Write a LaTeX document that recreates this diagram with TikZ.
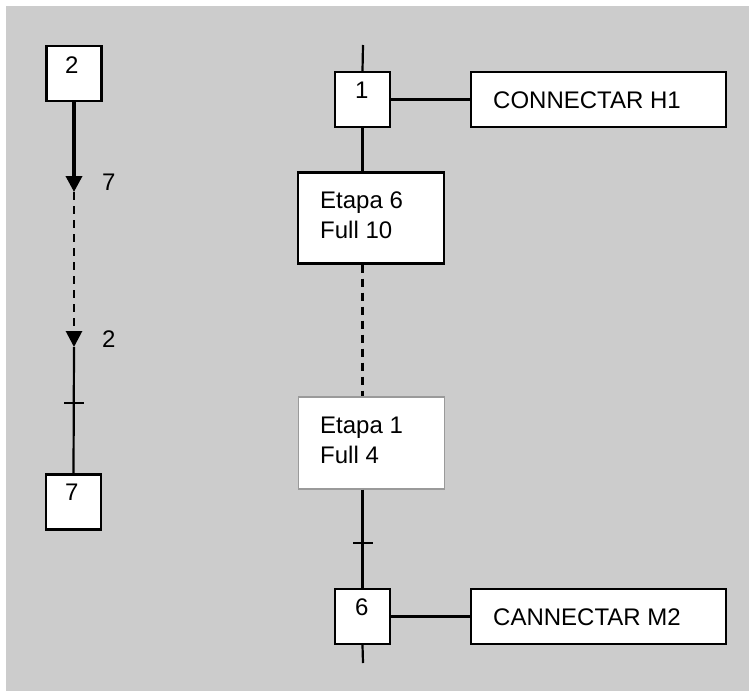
\documentclass[tikz,border=0pt]{standalone}
\usepackage{fontspec}
\setmainfont{Liberation Sans}
\usetikzlibrary{arrows.meta}
\definecolor{bg}{HTML}{CCCCCC}
\definecolor{softedge}{HTML}{9A9A9A}
\tikzset{
  box/.style={draw=black, fill=white, line width=2.2pt, inner sep=0pt},
  stepbox/.style={box, minimum width=55pt, minimum height=55pt},
  actionbox/.style={box, minimum width=255pt, minimum height=55pt},
  etapabox/.style={box, minimum width=146pt, minimum height=91pt},
  txt/.style={font=\fontsize{24}{28}\selectfont, inner sep=0pt, anchor=base west},
  link/.style={line width=2.2pt},
  thicklink/.style={line width=3.6pt},
  dashlink/.style={line width=2.8pt, dash pattern=on 8pt off 6pt},
  tip/.style={-{Triangle[width=16pt,length=16pt]}}
}
\begin{document}
\begin{tikzpicture}[x=1pt,y=-1pt]
\useasboundingbox (0,0) rectangle (749,691);
\fill[bg] (6,6) rectangle (749,691);

% ---- left branch: jump from step 2 to step 7 ----
\node[stepbox] (s2) at (74,73.5) {};
\node[txt] (t2) at (65,73) {2};
\node[stepbox] (s7) at (73.5,502) {};
\node[txt] (t7) at (65,500) {7};
\coordinate (a1) at (74,192);
\coordinate (a2) at (74,347);
\draw[thicklink, tip] (s2.south) -- (a1);
\draw[dashlink, tip] (a1) -- (a2);
\draw[link] (a2) -- (s7.north);
\coordinate (k1) at (74,403);
\draw[link] ([xshift=-10pt]k1) -- ([xshift=10pt]k1);
\node[txt] (l7) at (102,190) {7};
\node[txt] (l2) at (102,347) {2};

% ---- right sequence ----
\coordinate (top) at (363,45);
\coordinate (bot) at (363,663);
\node[stepbox] (s1) at (362.5,99.5) {};
\node[txt] (t1) at (355,98) {1};
\node[actionbox] (h1) at (598.5,99.5) {};
\node[txt] (th1) at (493,108) {CONNECTAR H1};

\node[etapabox] (e6) at (371,218) {};
\node[txt] (te6a) at (320,208) {Etapa 6};
\node[txt] (te6b) at (320,238) {Full 10};

\node[etapabox, draw=softedge, line width=1.4pt, minimum height=92pt] (e1) at (371.5,443) {};
\node[txt] (te1a) at (320,433) {Etapa 1};
\node[txt] (te1b) at (320,463) {Full 4};

\node[stepbox] (s6) at (362.5,616.5) {};
\node[txt] (t6) at (355,615) {6};
\node[actionbox] (m2) at (598.5,616.5) {};
\node[txt] (tm2) at (493,625) {CANNECTAR M2};

\draw[link] (top) -- (s1.north);
\draw[link] (s1.east) -- (h1.west);
\draw[link] (s1.south) -- (s1.south |- e6.north);
\draw[dashlink] (s1.south |- e6.south) -- (s1.south |- e1.north);
\draw[link] (s1.south |- e1.south) -- (s6.north);
\coordinate (k2) at (363,543);
\draw[link] ([xshift=-10pt]k2) -- ([xshift=10pt]k2);
\draw[link] (s6.east) -- (m2.west);
\draw[link] (s6.south) -- (bot);
\end{tikzpicture}
\end{document}
